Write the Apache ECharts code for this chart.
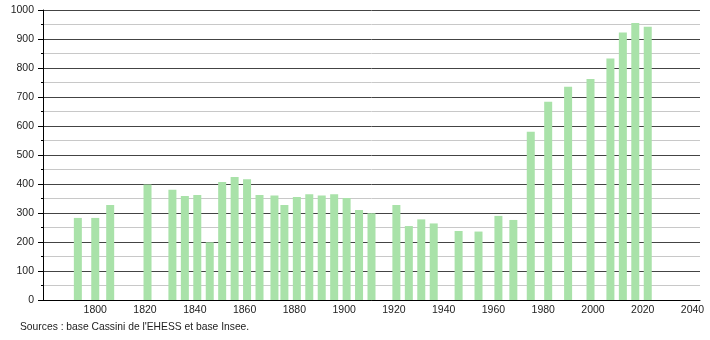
<!DOCTYPE html>
<html>
<head>
<meta charset="utf-8">
<script src="https://cdn.jsdelivr.net/npm/echarts@6/dist/echarts.min.js"></script>
<style>
html,body{margin:0;padding:0;background:#fff;}
#c{width:710px;height:340px;}
</style>
</head>
<body>
<div id="c"></div>
<script>
const years = [1793,1800,1806,1821,1831,1836,1841,1846,1851,1856,1861,1866,1872,1876,1881,1886,1891,1896,1901,1906,1911,1921,1926,1931,1936,1946,1954,1962,1968,1975,1982,1990,1999,2007,2012,2017,2022];
const population = [283,283,328,398,380,359,362,199,407,424,416,362,360,328,355,365,360,365,352,310,299,328,255,278,264,238,236,290,276,580,684,735,762,833,922,955,942];
const xTicks = [1800,1820,1840,1860,1880,1900,1920,1940,1960,1980,2000,2020,2040];
const sourceText = "Sources : base Cassini de l'EHESS et base Insee.";

const chart = echarts.init(document.getElementById('c'), null, {renderer:'canvas'});
const font = 'Liberation Sans, Arial, sans-serif';
chart.setOption({
  animation:false,
  grid:{left:43,right:10,top:10,bottom:40,containLabel:false},
  xAxis:{
    type:'value', min:1779, max:2043,
    axisLine:{show:true,lineStyle:{color:'#000',width:1}},
    axisTick:{show:false},
    splitLine:{show:false},
    axisLabel:{customValues:xTicks,color:'#222',fontSize:10.5,fontFamily:font,margin:5,formatter:v=>String(v)}
  },
  yAxis:{
    type:'value', min:0, max:1000, interval:100,
    axisLine:{show:true,lineStyle:{color:'#000',width:1}},
    axisTick:{show:true,length:5,lineStyle:{color:'#000'}},
    minorTick:{show:true,splitNumber:2,length:2,lineStyle:{color:'#000'}},
    splitLine:{show:true,lineStyle:{color:'#444',width:1}},
    minorSplitLine:{show:true,lineStyle:{color:'#c8c8c8',width:1}},
    axisLabel:{color:'#222',fontSize:10.5,fontFamily:font,margin:9,formatter:v=>String(v)}
  },
  series:[{
    type:'bar',
    barWidth:8,
    itemStyle:{color:'#a9e2a9'},
    data:years.map((y,i)=>[y,population[i]])
  }],
  graphic:[{
    type:'text', left:20, top:322,
    style:{text:sourceText,fill:'#222',font:'10.3px '+font}
  }]
});
</script>
</body>
</html>
